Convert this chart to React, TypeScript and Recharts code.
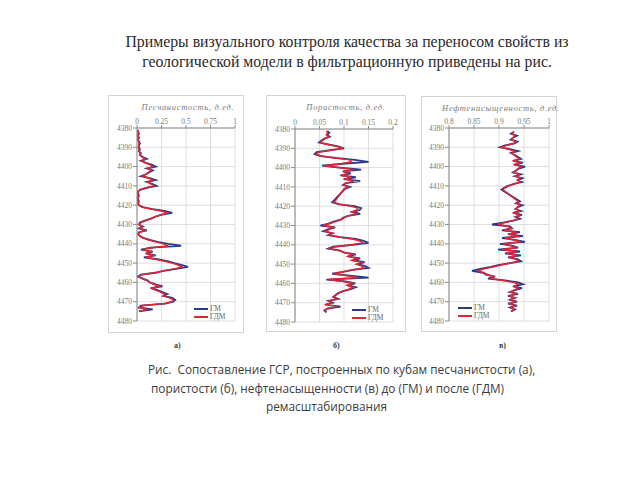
import { LineChart, Line, XAxis, YAxis, CartesianGrid, Legend } from 'recharts'

// depth, m (category axis, shared by all three panels)
const depths = [
    4381, 4382, 4383, 4384, 4385, 4386, 4387, 4388, 4389, 4390,
    4391, 4392, 4393, 4394, 4395, 4396, 4397, 4398, 4399, 4400,
    4401, 4402, 4403, 4404, 4405, 4406, 4407, 4408, 4409, 4410,
    4411, 4412, 4413, 4414, 4415, 4416, 4417, 4418, 4419, 4420,
    4421, 4422, 4423, 4424, 4425, 4426, 4427, 4428, 4429, 4430,
    4431, 4432, 4433, 4434, 4435, 4436, 4437, 4438, 4439, 4440,
    4441, 4442, 4443, 4444, 4445, 4446, 4447, 4448, 4449, 4450,
    4451, 4452, 4453, 4454, 4455, 4456, 4457, 4458, 4459, 4460,
    4461, 4462, 4463, 4464, 4465, 4466, 4467, 4468, 4469, 4470,
    4471, 4472, 4473, 4474, 4475,
]
const depthTicks = [4380, 4390, 4400, 4410, 4420, 4430, 4440, 4450, 4460, 4470, 4480]

// а) песчанистость
const sandGM = [
    0.01, 0.01, 0.02, 0.01, 0.02, 0.01, 0.02, 0.03, 0.02, 0.02,
    0.03, 0.02, 0.04, 0.03, 0.06, 0.10, 0.04, 0.09, 0.15, 0.19,
    0.10, 0.16, 0.12, 0.09, 0.04, 0.13, 0.19, 0.10, 0.16, 0.20,
    0.10, 0.03, 0.01, 0.01, 0.02, 0.01, 0.01, 0.02, 0.01, 0.02,
    0.06, 0.16, 0.28, 0.36, 0.24, 0.19, 0.14, 0.08, 0.03, 0.02,
    0.06, 0.02, 0.10, 0.02, 0.01, 0.03, 0.07, 0.13, 0.21, 0.32,
    0.45, 0.14, 0.04, 0.16, 0.09, 0.19, 0.07, 0.21, 0.31, 0.38,
    0.46, 0.52, 0.40, 0.27, 0.19, 0.04, 0.01, 0.06, 0.11, 0.13,
    0.19, 0.26, 0.14, 0.21, 0.26, 0.31, 0.27, 0.36, 0.39, 0.37,
    0.29, 0.04, 0.02, 0.16, 0.02,
]
const sandGDM = [
    0.01, 0.01, 0.01, 0.01, 0.01, 0.01, 0.02, 0.02, 0.02, 0.02,
    0.02, 0.02, 0.03, 0.03, 0.05, 0.08, 0.05, 0.08, 0.13, 0.16,
    0.11, 0.14, 0.12, 0.09, 0.06, 0.12, 0.16, 0.11, 0.14, 0.17,
    0.09, 0.03, 0.01, 0.01, 0.01, 0.01, 0.01, 0.01, 0.01, 0.02,
    0.05, 0.14, 0.25, 0.31, 0.25, 0.18, 0.14, 0.09, 0.04, 0.02,
    0.05, 0.03, 0.08, 0.03, 0.01, 0.03, 0.06, 0.12, 0.19, 0.27,
    0.31, 0.16, 0.06, 0.14, 0.10, 0.17, 0.09, 0.19, 0.28, 0.36,
    0.42, 0.46, 0.38, 0.27, 0.18, 0.05, 0.02, 0.05, 0.10, 0.13,
    0.17, 0.23, 0.15, 0.19, 0.24, 0.28, 0.27, 0.33, 0.37, 0.36,
    0.27, 0.06, 0.03, 0.10, 0.02,
]
const sandTicks = [0, 0.25, 0.5, 0.75, 1]

// б) пористость
const poroGM = [
    0.066, 0.070, 0.065, 0.071, 0.060, 0.054, 0.049, 0.068, 0.088, 0.100,
    0.072, 0.044, 0.040, 0.052, 0.083, 0.122, 0.150, 0.098, 0.055, 0.092,
    0.135, 0.098, 0.114, 0.093, 0.124, 0.100, 0.133, 0.104, 0.098, 0.112,
    0.102, null, null, null, null, null, null, 0.076, 0.090, 0.122,
    0.135, 0.132, 0.118, 0.133, 0.108, 0.098, 0.093, 0.079, 0.068, 0.052,
    0.082, 0.067, 0.058, 0.077, 0.068, 0.092, 0.124, 0.140, 0.150, 0.118,
    0.078, 0.068, 0.092, 0.101, 0.124, 0.108, 0.133, 0.118, 0.142, 0.128,
    0.143, 0.150, 0.118, 0.098, 0.076, 0.112, 0.150, 0.064, 0.103, 0.123,
    0.108, 0.124, 0.114, 0.098, 0.088, 0.083, 0.078, 0.088, 0.068, 0.077,
    0.062, 0.093, 0.067, 0.060, 0.064,
]
const poroGDM = [
    0.064, 0.067, 0.064, 0.068, 0.061, 0.056, 0.052, 0.066, 0.085, 0.098,
    0.075, 0.048, 0.043, 0.054, 0.080, 0.112, 0.115, 0.095, 0.060, 0.088,
    0.118, 0.100, 0.108, 0.096, 0.115, 0.102, 0.120, 0.105, 0.100, 0.108,
    0.100, null, null, null, null, null, null, 0.080, 0.092, 0.115,
    0.128, 0.126, 0.115, 0.125, 0.108, 0.100, 0.094, 0.082, 0.072, 0.058,
    0.078, 0.070, 0.062, 0.076, 0.070, 0.090, 0.118, 0.132, 0.138, 0.115,
    0.082, 0.072, 0.090, 0.100, 0.118, 0.108, 0.126, 0.116, 0.135, 0.126,
    0.136, 0.140, 0.116, 0.098, 0.080, 0.106, 0.128, 0.068, 0.098, 0.118,
    0.106, 0.118, 0.110, 0.098, 0.090, 0.084, 0.080, 0.086, 0.070, 0.075,
    0.064, 0.086, 0.066, 0.062, 0.064,
]
const poroTicks = [0, 0.05, 0.1, 0.15, 0.2]

// в) нефтенасыщенность
const oilGM = [
    null, 0.930, 0.924, 0.936, 0.928, 0.923, 0.937, 0.931, 0.912, 0.902,
    0.922, 0.938, 0.924, 0.932, 0.938, 0.944, 0.928, 0.948, 0.930, 0.952,
    0.940, 0.934, 0.928, 0.944, 0.932, 0.947, 0.938, 0.946, 0.930, 0.918,
    0.910, 0.905, null, null, null, null, null, 0.942, 0.934, 0.947,
    0.938, 0.933, 0.944, 0.928, 0.946, 0.933, 0.942, 0.928, 0.908, 0.886,
    0.922, 0.926, 0.906, 0.942, 0.918, 0.948, 0.906, 0.932, 0.952, 0.902,
    0.926, 0.938, 0.898, 0.942, 0.912, 0.944, 0.918, 0.938, 0.944, 0.922,
    0.898, 0.884, 0.862, 0.846, 0.868, 0.874, 0.892, 0.878, 0.912, 0.938,
    0.948, 0.928, 0.946, 0.932, 0.922, 0.938, 0.918, 0.932, 0.922, 0.936,
    0.918, 0.936, 0.922, 0.932, 0.924,
]
const oilGDM = [
    null, 0.928, 0.926, 0.932, 0.928, 0.925, 0.933, 0.930, 0.915, 0.905,
    0.918, 0.932, 0.926, 0.930, 0.935, 0.940, 0.930, 0.942, 0.932, 0.945,
    0.938, 0.934, 0.930, 0.940, 0.934, 0.942, 0.937, 0.942, 0.930, 0.920,
    0.912, 0.908, null, null, null, null, null, 0.938, 0.935, 0.942,
    0.937, 0.934, 0.940, 0.930, 0.942, 0.934, 0.938, 0.928, 0.912, 0.898,
    0.918, 0.924, 0.910, 0.936, 0.920, 0.940, 0.912, 0.930, 0.944, 0.908,
    0.924, 0.934, 0.906, 0.936, 0.916, 0.938, 0.920, 0.934, 0.938, 0.924,
    0.904, 0.888, 0.870, 0.858, 0.870, 0.878, 0.890, 0.884, 0.908, 0.930,
    0.938, 0.930, 0.938, 0.930, 0.924, 0.934, 0.922, 0.930, 0.924, 0.932,
    0.922, 0.932, 0.924, 0.930, 0.926,
]
const oilTicks = [0.8, 0.85, 0.9, 0.95, 1]

const seriesNames = ['ГМ', 'ГДМ']
const colors = ['#2b3a8f', '#e3262d']

const serif = '"Liberation Serif", "DejaVu Serif", serif'
const sans = '"Open Sans", "Noto Sans", sans-serif'

const toRows = (gm: (number | null)[], gdm: (number | null)[]) =>
    depths.map((d, i) => ({ depth: d, gm: gm[i], gdm: gdm[i] }))

// legend drawn as small line swatches, in series order
const LogLegend = ({ payload }: { payload?: any[] }) => {
    const items = [...(payload || [])].sort((a, b) => seriesNames.indexOf(a.value) - seriesNames.indexOf(b.value))
    return <div style={{ fontFamily: serif, fontSize: 7.5, color: '#666', lineHeight: '8px' }}>
        {items.map((p) => <div key={p.value} style={{ display: 'flex', alignItems: 'center', height: 8 }}>
            <svg width={14} height={4} style={{ marginRight: 2 }}>
                <line x1={0} x2={14} y1={2} y2={2} stroke={p.color} strokeWidth={2} />
            </svg>
            <span>{p.value}</span>
        </div>)}
    </div>
}

interface iLog {
    title: string
    ticks: number[]
    gm: (number | null)[]
    gdm: (number | null)[]
    left: number
    top: number
    width: number
    height: number
    margin: { top: number, left: number, right: number, bottom: number }
    legendLeft: number
    legendTop: number
}

const LogChart = ({ title, ticks, gm, gdm, left, top, width, height, margin, legendLeft, legendTop }: iLog) => {
    const plotLeft = margin.left + 25
    const plotWidth = width - plotLeft - margin.right
    return <div style={{ position: 'absolute', left, top, width, height, border: '1px solid #d4d4d4', boxSizing: 'border-box', background: '#fff' }}>
        <div style={{
            position: 'absolute', left: plotLeft - 10, width: plotWidth + 20, top: 6, textAlign: 'center',
            fontFamily: serif, fontStyle: 'italic', fontSize: 8.5, letterSpacing: 0.7, color: '#7a7a7a', whiteSpace: 'nowrap',
        }}>{title}</div>
        <LineChart
            layout='vertical'
            width={width - 2}
            height={height - 2}
            data={toRows(gm, gdm)}
            margin={margin}
            style={{ position: 'absolute', left: -1, top: -1 }}
        >
            <CartesianGrid stroke='#d6d6d6' strokeWidth={0.8} />
            <XAxis
                type='number'
                orientation='top'
                domain={[ticks[0], ticks[ticks.length - 1]]}
                ticks={ticks}
                tickFormatter={(v) => String(v)}
                height={20}
                tickSize={3}
                tickMargin={1}
                tick={{ fontSize: 7.5, fill: '#7a7a7a', fontFamily: serif }}
                stroke='#8a8a8a'
                interval={0}
            />
            <YAxis
                type='number'
                dataKey='depth'
                domain={[4380, 4480]}
                ticks={depthTicks}
                width={25}
                tickSize={4}
                tickMargin={1}
                tick={{ fontSize: 7.5, fill: '#7a7a7a', fontFamily: serif }}
                stroke='#8a8a8a'
                interval={0}
            />
            <Line dataKey='gm' name={seriesNames[0]} stroke={colors[0]} strokeWidth={1.8} dot={false} legendType='plainline' isAnimationActive={false} />
            <Line dataKey='gdm' name={seriesNames[1]} stroke={colors[1]} strokeWidth={1.5} dot={false} legendType='plainline' isAnimationActive={false} />
            <Legend
                content={<LogLegend />}
                layout='horizontal'
                align='center'
                verticalAlign='middle'
                wrapperStyle={{ left: legendLeft, top: legendTop, width: 'auto', bottom: 'auto' }}
            />
        </LineChart>
    </div>
}

const subLabel = (text: string, left: number) =>
    <div style={{ position: 'absolute', left, top: 341, fontFamily: serif, fontWeight: 'bold', fontSize: 8, color: '#444' }}>{text}</div>

export default function App() {
    return <div style={{ position: 'absolute', left: 0, top: 0, width: 640, height: 480, background: '#fff', overflow: 'hidden' }}>
        <div style={{ position: 'absolute', left: 0, width: 694, top: 32, textAlign: 'center', fontFamily: serif, fontSize: 15.8, lineHeight: '20px', color: '#2a2a2a' }}>
            Примеры визуального контроля качества за переносом свойств из<br />
            геологической модели в фильтрационную приведены на рис.
        </div>

        <LogChart title='Песчанистость, д.ед.' ticks={sandTicks} gm={sandGM} gdm={sandGDM}
            left={108} top={95} width={136} height={238}
            margin={{ top: 13, left: 4, right: 7, bottom: 10 }}
            legendLeft={86} legendTop={210} />
        <LogChart title='Пористость, д.ед.' ticks={poroTicks} gm={poroGM} gdm={poroGDM}
            left={266} top={95} width={140} height={237}
            margin={{ top: 14, left: 4, right: 11, bottom: 8 }}
            legendLeft={86} legendTop={211} />
        <LogChart title='Нефтенасыщенность, д.ед.' ticks={oilTicks} gm={oilGM} gdm={oilGDM}
            left={421} top={96} width={136} height={236}
            margin={{ top: 12, left: 3, right: 6, bottom: 9 }}
            legendLeft={37} legendTop={208} />

        {subLabel('а)', 174)}
        {subLabel('б)', 333)}
        {subLabel('в)', 499)}

        <div style={{ position: 'absolute', left: 148, top: 360, fontFamily: sans, fontSize: 11.8, lineHeight: '18.5px', color: '#3c3c3c', whiteSpace: 'nowrap' }}>
            <div>Рис.&nbsp; Сопоставление ГСР, построенных по кубам песчанистости (а),</div>
            <div style={{ marginLeft: 3 }}>пористости (б), нефтенасыщенности (в) до (ГМ) и после (ГДМ)</div>
            <div style={{ marginLeft: 118 }}>ремасштабирования</div>
        </div>
    </div>
}
